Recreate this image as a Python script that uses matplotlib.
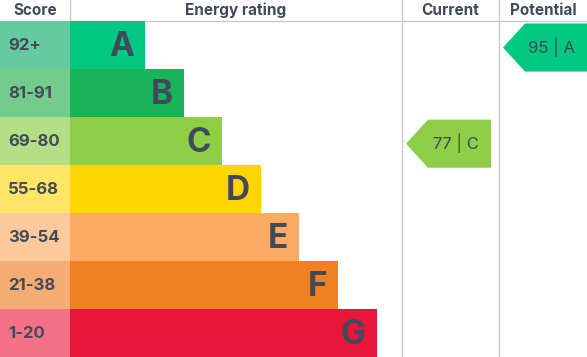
import matplotlib.pyplot as plt
from matplotlib.patches import Polygon

bands = ['A', 'B', 'C', 'D', 'E', 'F', 'G']
score_ranges = ['92+', '81-91', '69-80', '55-68', '39-54', '21-38', '1-20']
band_lengths = [75, 114, 152, 191, 229, 268, 307]
bar_colors = ['#00c781', '#19b459', '#8dce46', '#ffd500', '#fcaa65', '#ef8023', '#e9153b']
score_colors = ['#66c9a0', '#74cb8e', '#b4de85', '#ffe566', '#fec99c', '#f5ad74', '#f47188']
headers = ['Score', 'Energy rating', 'Current', 'Potential']

current_score, current_band = 77, 'C'
potential_score, potential_band = 95, 'A'

text_color = '#414a58'
line_color = '#c8c8c8'

W, H = 587, 357
fig = plt.figure(figsize=(W / 100, H / 100), dpi=100)
ax = fig.add_axes([0, 0, 1, 1])
ax.set_xlim(0, W)
ax.set_ylim(H, 0)
ax.axis('off')
plt.rcParams['font.family'] = ['Inter', 'DejaVu Sans']

header_h = 20.5
row_h = (H - header_h) / len(bands)
score_w = 70
col_x = [0, score_w, 402, 499, W]

# header
for i, label in enumerate(headers):
    ax.text((col_x[i] + col_x[i + 1]) / 2, header_h / 2, label, ha='center', va='center',
            fontsize=11, fontweight='bold', color=text_color)
ax.axhline(header_h, color=line_color, lw=1)
for x in col_x[1:4]:
    ax.axvline(x - 0.5, color=line_color, lw=1)

# rating rows
ys = [header_h + row_h * (i + 0.5) for i in range(len(bands))]
ax.barh(ys, [score_w] * len(bands), left=0, height=row_h, color=score_colors, zorder=2)
ax.barh(ys, band_lengths, left=score_w, height=row_h, color=bar_colors, zorder=2)
for y, band, length, rng in zip(ys, bands, band_lengths, score_ranges):
    ax.text(8, y + 1, rng, ha='left', va='center', fontsize=12, fontweight='bold',
            color=text_color, zorder=3)
    ax.text(score_w + length - 11, y + 2, band, ha='right', va='center', fontsize=24,
            fontweight='bold', color=text_color, zorder=3)


def draw_arrow(col, band, score):
    i = bands.index(band)
    y0 = header_h + row_h * i + 3
    y1 = y0 + row_h
    xl, xr = col_x[col] + 4, col_x[col + 1] - 8
    if col == 3:
        xr = W
    pts = [(xl, (y0 + y1) / 2), (xl + 22, y0), (xr, y0), (xr, y1), (xl + 22, y1)]
    ax.add_patch(Polygon(pts, closed=True, color=bar_colors[i], zorder=2, lw=0))
    ax.text((xl + 22 + xr) / 2 - 4, (y0 + y1) / 2, f'{score} | {band}', ha='center',
            va='center', fontsize=12, color=text_color, zorder=3)


draw_arrow(2, current_band, current_score)
draw_arrow(3, potential_band, potential_score)

fig.savefig('out.png', dpi=100)
